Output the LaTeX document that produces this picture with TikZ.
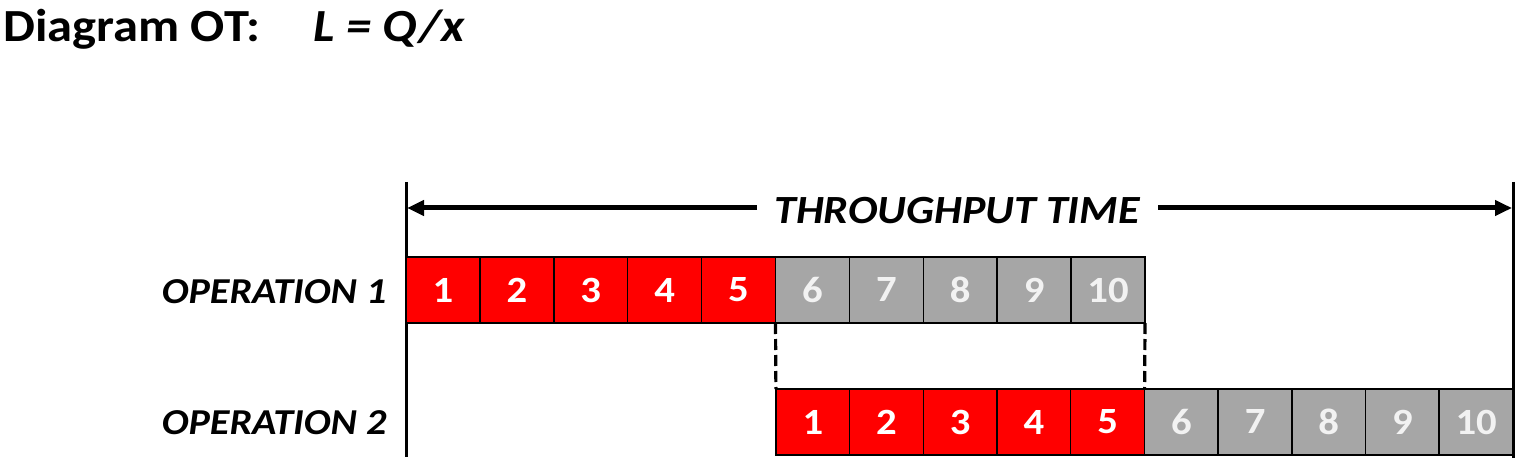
\documentclass[tikz,border=0pt]{standalone}
\usepackage{fontspec}
\setmainfont[FakeStretch=1.1]{Carlito}
\usetikzlibrary{arrows.meta}
\definecolor{cellred}{HTML}{FF0000}
\definecolor{cellgrey}{HTML}{A6A6A6}
\definecolor{greytext}{HTML}{F2F2F2}
\tikzset{
  cellbox/.style={draw=black, line width=1.5pt, minimum width=73.9pt, minimum height=66pt,
    inner sep=0pt, outer sep=0pt, font=\fontsize{37}{40}\selectfont\bfseries},
  redcell/.style={cellbox, fill=cellred, text=white},
  greycell/.style={cellbox, fill=cellgrey, text=greytext},
  opname/.style={anchor=east, font=\fontsize{36.5}{40}\selectfont\bfseries\itshape},
  boundary/.style={line width=3pt},
  dimarrow/.style={line width=5pt, -{Triangle[length=17pt,width=15pt]}},
  linkdash/.style={line width=3.2pt, dash pattern=on 11pt off 5pt}
}
\begin{document}
\begin{tikzpicture}[x=1pt,y=-1pt]
\useasboundingbox (0,0) rectangle (1523,465);
% title
\node[anchor=base west, inner sep=0pt, font=\fontsize{46}{50}\selectfont\bfseries] (title) at (3,42) {Diagram OT:};
\node[anchor=base west, inner sep=0pt, font=\fontsize{46}{50}\selectfont\bfseries\itshape] (formula) at (313,42) {L = Q/x};
% boundaries
\coordinate (lt) at (406,182);
\coordinate (lb) at (406,457);
\coordinate (rt) at (1513,182);
\coordinate (rb) at (1513,458);
\draw[boundary] (lt) -- (lb);
\draw[boundary] (rt) -- (rb);
% throughput time
\node[inner sep=0pt, font=\fontsize{40}{45}\selectfont\bfseries\itshape] (tt) at (957,211) {THROUGHPUT TIME};
\coordinate (la) at (407,208);
\coordinate (ra) at (1512,208);
\draw[dimarrow] (757,208) -- (la);
\draw[dimarrow] (1158,208) -- (ra);
% operation 1
\foreach \i in {1,...,10}{
  \pgfmathsetmacro{\xc}{406+73.9*(\i-0.5)}
  \ifnum\i<6
    \node[redcell] (a\i) at (\xc,290) {\i};
  \else
    \node[greycell] (a\i) at (\xc,290) {\i};
  \fi
}
% operation 2
\foreach \i in {1,...,10}{
  \pgfmathsetmacro{\xc}{776+73.7*(\i-0.5)}
  \ifnum\i<6
    \node[redcell] (b\i) at (\xc,422) {\i};
  \else
    \node[greycell] (b\i) at (\xc,422) {\i};
  \fi
}
\node[opname] (op1) at (390,292) {OPERATION 1};
\node[opname] (op2) at (390,423) {OPERATION 2};
% dashed links
\draw[linkdash] (a5.south east) -- (b1.north west);
\draw[linkdash] (a10.south east) -- (b5.north east);
\end{tikzpicture}
\end{document}
